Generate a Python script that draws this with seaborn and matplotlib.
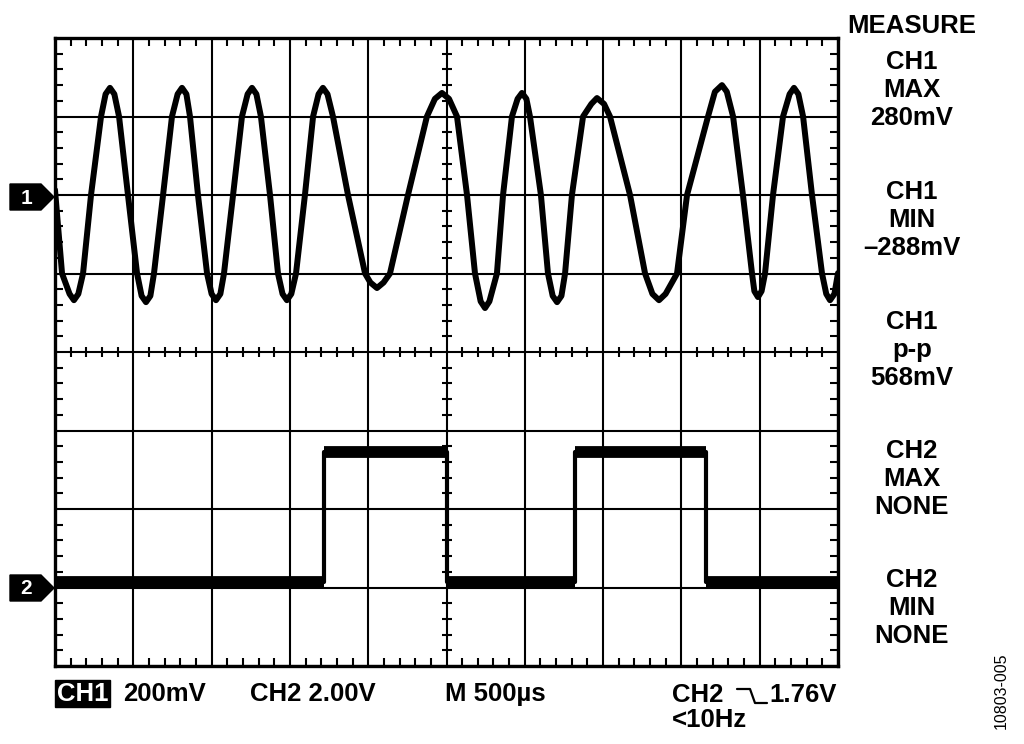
import numpy as np
import pandas as pd
import matplotlib.pyplot as plt
from matplotlib.patches import Polygon, Rectangle
import seaborn as sns

# --- channel 1: sine burst, time in ms, amplitude in mV ---
ch1_t_ms = [0.000, 0.045, 0.093, 0.121, 0.149, 0.179, 0.230, 0.294, 0.323, 0.351,
            0.379, 0.409, 0.466, 0.524, 0.553, 0.581, 0.609, 0.632, 0.690, 0.747,
            0.783, 0.811, 0.839, 0.862, 0.913, 0.971, 1.000, 1.028, 1.056, 1.079,
            1.137, 1.194, 1.230, 1.258, 1.286, 1.315, 1.373, 1.424, 1.453, 1.481,
            1.509, 1.539, 1.596, 1.648, 1.683, 1.711, 1.740, 1.775, 1.871, 1.980,
            2.014, 2.056, 2.098, 2.139, 2.254, 2.375, 2.426, 2.471, 2.516, 2.567,
            2.631, 2.682, 2.718, 2.746, 2.774, 2.822, 2.861, 2.918, 2.954, 2.982,
            3.010, 3.033, 3.103, 3.148, 3.178, 3.206, 3.234, 3.257, 3.301, 3.372,
            3.425, 3.461, 3.506, 3.544, 3.672, 3.768, 3.815, 3.857, 3.899, 3.972,
            4.036, 4.170, 4.214, 4.259, 4.290, 4.330, 4.393, 4.451, 4.466, 4.489,
            4.512, 4.534, 4.585, 4.649, 4.691, 4.719, 4.747, 4.777, 4.834, 4.898,
            4.925, 4.949, 4.977, 5.000]
ch1_mv = [13, -200, -252, -268, -252, -200, 0, 200, 257, 273,
          257, 200, 0, -200, -257, -273, -257, -200, 0, 200,
          257, 273, 257, 200, 0, -200, -252, -268, -252, -200,
          0, 200, 257, 273, 257, 200, 0, -200, -252, -268,
          -252, -200, 0, 200, 257, 273, 257, 200, 0, -200,
          -223, -237, -223, -200, 0, 200, 245, 260, 245, 200,
          0, -200, -271, -288, -271, -200, 0, 200, 245, 260,
          245, 200, 0, -200, -257, -273, -257, -200, 0, 200,
          232, 247, 232, 200, 0, -200, -252, -268, -252, -200,
          0, 200, 263, 280, 263, 200, 0, -200, -245, -260,
          -245, -200, 0, 200, 257, 273, 257, 200, 0, -200,
          -252, -268, -252, -199]

# --- channel 2: digital output, edge times in ms, levels in V ---
ch2_edges_ms = [1.72, 2.50, 3.32, 4.16]
ch2_low_v = 0.15
ch2_high_v = 3.44

# scope settings
time_per_div_ms = 0.5
ch1_mv_per_div = 200
ch2_v_per_div = 2.0
ch1_offset_div = 2
ch2_offset_div = -3

measure_groups = [["CH1", "MAX", "280mV"],
                  ["CH1", "MIN", "\u2013288mV"],
                  ["CH1", "p-p", "568mV"],
                  ["CH2", "MAX", "NONE"],
                  ["CH2", "MIN", "NONE"]]

# build tables in screen divisions
ch1 = pd.DataFrame({"t": ch1_t_ms, "mv": ch1_mv})
ch1["x"] = ch1["t"] / time_per_div_ms
ch1["y"] = ch1_offset_div + ch1["mv"] / ch1_mv_per_div

t2 = [0.0]
v2 = [ch2_low_v]
level = ch2_low_v
for e in ch2_edges_ms:
    t2 += [e, e]
    nxt = ch2_high_v if level == ch2_low_v else ch2_low_v
    v2 += [level, nxt]
    level = nxt
t2.append(5.0)
v2.append(level)
ch2 = pd.DataFrame({"t": t2, "v": v2})
ch2["x"] = ch2["t"] / time_per_div_ms
ch2["y"] = ch2_offset_div + ch2["v"] / ch2_v_per_div

sns.set_style("white")
plt.rcParams['font.family'] = ['Liberation Sans', 'DejaVu Sans']
plt.rcParams['text.color'] = 'black'

W, H = 1024, 744
fig = plt.figure(figsize=(W / 100, H / 100), dpi=100)
ax = fig.add_axes([55 / W, 1 - 666 / H, 783 / W, 628 / H])

ax.set_xlim(0, 10)
ax.set_ylim(-4, 4)
ax.set_xticks(np.arange(0, 11, 1))
ax.set_yticks(np.arange(-4, 5, 1))
ax.set_xticks(np.arange(0, 10.01, 0.2), minor=True)
ax.set_yticks(np.arange(-4, 4.01, 0.2), minor=True)
ax.grid(True, which="major", color="black", lw=1.5)
ax.tick_params(which="major", length=0, labelbottom=False, labelleft=False)
ax.tick_params(which="minor", direction="in", length=5.5, width=1.5, color="black",
               top=True, right=True, bottom=True, left=True)
for s in ax.spines.values():
    s.set_color("black")
    s.set_linewidth(2.4)

# cross ticks on the centre lines
mx = [v for v in np.arange(0, 10.01, 0.2) if abs(v - round(v)) > 0.01]
my = [v for v in np.arange(-4, 4.01, 0.2) if abs(v - round(v)) > 0.01]
ax.plot(mx, [0] * len(mx), ls="none", marker="|", ms=7, mew=1.5, color="black")
ax.plot([5] * len(my), my, ls="none", marker="_", ms=7, mew=1.5, color="black")

# traces
sns.lineplot(data=ch1, x="x", y="y", sort=False, estimator=None, color="black",
             lw=4.3, ax=ax, solid_joinstyle="round")
sns.lineplot(data=ch2, x="x", y="y", sort=False, estimator=None, color="black",
             lw=3.0, ax=ax)
hz = ch2.iloc[::2]
ax.hlines(hz["y"], hz["x"], ch2["x"].iloc[1::2].values, color="black", lw=8.5,
          capstyle="butt")
ax.set_xlabel("")
ax.set_ylabel("")

# overlay in pixel coordinates for screen annotations
ov = fig.add_axes([0, 0, 1, 1], zorder=5)
ov.set_xlim(0, W)
ov.set_ylim(H, 0)
ov.axis("off")
ov.patch.set_alpha(0)

for lab, yc in [("1", 197), ("2", 588)]:
    ov.add_patch(Polygon([(10, yc - 13), (41, yc - 13), (54, yc), (41, yc + 13), (10, yc + 13)],
                         closed=True, color="black"))
    ov.text(26, yc + 1, lab, color="white", fontsize=15, fontweight="bold",
            ha="center", va="center")

fs = 18.5
bold = dict(fontsize=fs, fontweight="bold", color="black", va="center")
ov.text(912, 26, "MEASURE", ha="center", **bold)
for top, grp in zip([62, 192, 322, 451, 580], measure_groups):
    for i, line in enumerate(grp):
        ov.text(912, top + i * 28, line, ha="center", **bold)

ov.add_patch(Rectangle((55, 680), 55, 27, color="black"))
ov.text(82.5, 694, "CH1", ha="center", **{**bold, "color": "white"})
ov.text(123, 694, "200mV", ha="left", **bold)
ov.text(250, 694, "CH2 2.00V", ha="left", **bold)
ov.text(445, 694, "M 500\u00b5s", ha="left", **bold)
ov.text(672, 695, "CH2", ha="left", **bold)
ov.plot([737, 750, 755, 767], [689, 689, 703, 703], color="black", lw=1.6)
ov.text(769, 695, "1.76V", ha="left", **bold)
ov.text(672, 720, "<10Hz", ha="left", **bold)

ov.text(1001, 691, "10803-005", fontsize=11.5, color="black", rotation=90,
        ha="center", va="center")

fig.savefig("out.png", dpi=100)
